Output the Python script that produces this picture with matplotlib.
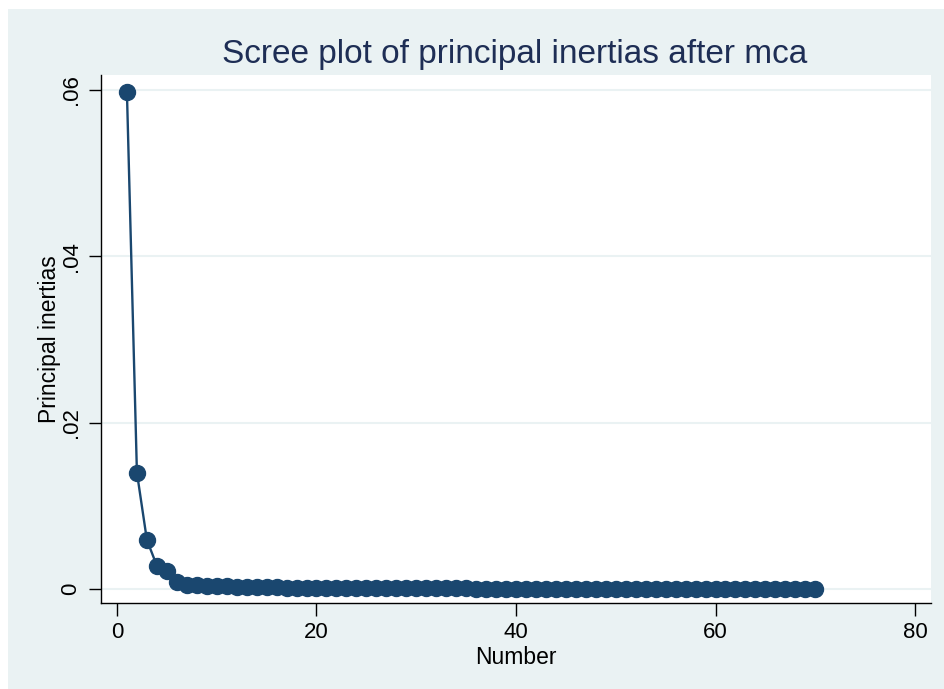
import matplotlib
matplotlib.use("Agg")
import matplotlib.pyplot as plt
from matplotlib.patches import Rectangle

# Data: principal inertias by dimension number
number = list(range(1, 71))
inertias = [0.0597, 0.0140, 0.0059, 0.0028, 0.0022, 0.00082, 0.00052, 0.00047, 0.00042, 0.00036,
            0.00031, 0.00028, 0.00025, 0.00023, 0.00021, 0.00019, 0.00018, 0.00017, 0.00016, 0.00015,
            0.00014, 0.00013, 0.00012, 0.00011, 0.00011, 0.00010, 0.00010, 0.00009, 0.00009, 0.00008,
            0.00008, 0.00008, 0.00007, 0.00007, 0.00007, 0.00006, 0.00006, 0.00006, 0.00006, 0.00005,
            0.00005, 0.00005, 0.00005, 0.00004, 0.00004, 0.00004, 0.00004, 0.00004, 0.00003, 0.00003,
            0.00003, 0.00003, 0.00003, 0.00003, 0.00002, 0.00002, 0.00002, 0.00002, 0.00002, 0.00002,
            0.00002, 0.00001, 0.00001, 0.00001, 0.00001, 0.00001, 0.00001, 0.00001, 0.00001, 0.00001]
xticks = [0, 20, 40, 60, 80]
yticks = [0, 0.02, 0.04, 0.06]
ytick_labels = ["0", ".02", ".04", ".06"]

plt.rcParams['font.family'] = ['Liberation Sans', 'DejaVu Sans']

W, H = 944, 689
fig = plt.figure(figsize=(W / 100, H / 100), dpi=100)
fig.patch.set_facecolor("white")
bg = "#EAF2F3"
fig.patches.append(Rectangle((8 / W, 0), 1 - 8 / W, 1 - 9 / H, transform=fig.transFigure,
                             facecolor=bg, edgecolor="none", zorder=-10))

left, right, top, bottom = 101, 931, 75, 603
ax = fig.add_axes([left / W, 1 - bottom / H, (right - left) / W, (bottom - top) / H])
ax.set_facecolor("white")

navy = "#1a476f"
ax.plot(number, inertias, color=navy, lw=1.7, marker="o", markersize=11.5,
        markerfacecolor=navy, markeredgecolor=navy, zorder=3, clip_on=False)

ax.set_xlim(-1.6, 81.6)
ax.set_ylim(-0.00168, 0.0618)
ax.set_xticks(xticks)
ax.set_yticks(yticks)
ax.set_yticklabels(ytick_labels, rotation=90, va="center")
ax.grid(axis="y", color=bg, lw=1.5, zorder=0)
ax.grid(axis="x", visible=False)

for s in ["top", "right"]:
    ax.spines[s].set_visible(False)
for s in ["left", "bottom"]:
    ax.spines[s].set_color("black")
    ax.spines[s].set_linewidth(1.0)

ax.tick_params(axis="both", length=9, width=1.0, color="black", labelsize=16, labelcolor="black")
ax.tick_params(axis="x", pad=5)
ax.tick_params(axis="y", pad=5)

ax.set_xlabel("Number", fontsize=16.5, labelpad=2)
ax.set_ylabel("Principal inertias", fontsize=16.5, labelpad=0)

fig.text(515 / W, 1 - 63 / H, "Scree plot of principal inertias after mca",
         ha="center", va="baseline", fontsize=24, color="#1e2e55")

fig.savefig("out.png", dpi=100, facecolor=fig.get_facecolor())
